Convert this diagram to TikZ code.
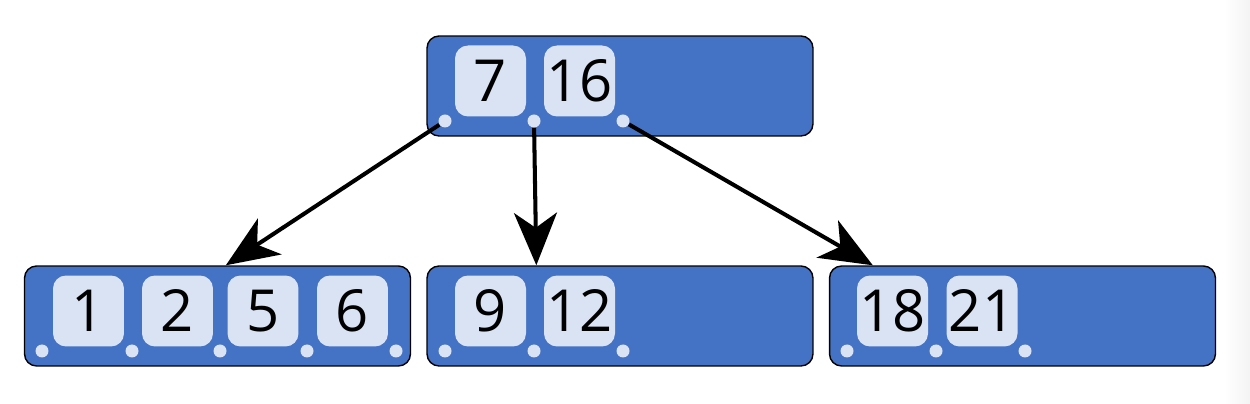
\documentclass[tikz,border=0pt]{standalone}
\usepackage{fontspec}
\setmainfont{Open Sans}
\usetikzlibrary{arrows.meta,calc}
\definecolor{nodeblue}{HTML}{4472C4}
\definecolor{keyfill}{HTML}{DAE3F3}
\tikzset{
    btree/.style   = {x=0.02cm, y=-0.02cm, >={Stealth[length=1.05cm, width=0.86cm, inset=0.3cm]}},
    page/.style    = {draw=black, line width=0.8pt, fill=nodeblue, rounded corners=0.24cm,
                      minimum width=7.72cm, minimum height=2cm, inner sep=0pt},
    key/.style     = {fill=keyfill, rounded corners=0.26cm, minimum size=1.42cm,
                      inner sep=0pt, font=\fontsize{33}{33}\selectfont},
    ptr/.style     = {circle, fill=keyfill, minimum size=0.26cm, inner sep=0pt},
    link/.style    = {->, line width=2.3pt}
}
\begin{document}
\begin{tikzpicture}[btree]
\useasboundingbox (0,0) rectangle (1250,404);
\shade[left color=white, right color=gray!9] (1224,0) rectangle (1250,404);

% ================= Root page =================
\node[page] (root) at (620,86) {};
\node[key] (k7)  at (490.5,81) {7};
\node[key] (k16) at (579.5,81) {16};
\node[ptr] (r0) at (445,121) {};
\node[ptr] (r1) at (534,121) {};
\node[ptr] (r2) at (623,121) {};

% ================= Leaf pages =================
\node[page] (leafA) at (217.5,316) {};
\node[page] (leafB) at (620,316) {};
\node[page] (leafC) at (1022.5,316) {};

% left leaf
\foreach \k/\x in {1/88.5, 2/177.5, 5/263, 6/352.5}
    \node[key] (ka\k) at (\x,311) {\k};
\foreach \x [count=\i] in {42, 132, 220, 307, 396}
    \node[ptr] (a\i) at (\x,351) {};

% middle leaf
\node[key] (k9)  at (490.5,311) {9};
\node[key] (k12) at (579.5,311) {12};
\foreach \x [count=\i] in {445, 534, 623}
    \node[ptr] (b\i) at (\x,351) {};

% right leaf
\node[key] (k18) at (892.5,311) {18};
\node[key] (k21) at (982,311) {21};
\foreach \x [count=\i] in {847, 936, 1025}
    \node[ptr] (c\i) at (\x,351) {};

% ================= Child pointers =================
\coordinate (ta) at ($(leafA.north west)+(202,0)$);
\coordinate (tb) at ($(leafB.north west)+(110,0)$);
\coordinate (tc) at ($(leafC.north west)+(44,0)$);
\draw[link] (r0) -- (ta);
\draw[link] (r1) -- (tb);
\draw[link] (r2) -- (tc);

\end{tikzpicture}
\end{document}
